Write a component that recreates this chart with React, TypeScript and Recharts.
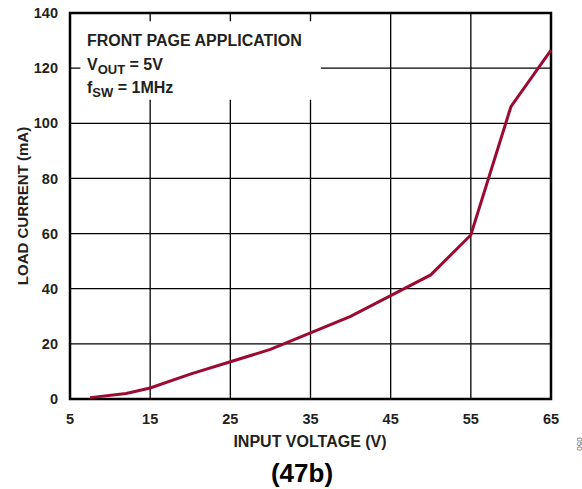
import React from 'react';
import {
  LineChart,
  Line,
  XAxis,
  YAxis,
  CartesianGrid,
  ReferenceArea,
} from 'recharts';

const inputVoltage = [7.5, 12, 15, 20, 25, 30, 35, 40, 45, 50, 55, 60, 65];
const loadCurrent = [0.5, 2, 4, 9, 13.5, 18, 24, 30, 37.5, 45, 59.5, 106, 126.5];
const xTicks = [5, 15, 25, 35, 45, 55, 65];
const yTicks = [0, 20, 40, 60, 80, 100, 120, 140];

const FONT = '"Liberation Sans", Arial, sans-serif';
const INK = '#231f20';

const data = inputVoltage.map((v, i) => ({ v, i: loadCurrent[i] }));

const tickStyle = { fontFamily: FONT, fontSize: 14.5, fontWeight: 700, fill: INK };

export default function App() {
  return (
    <div
      style={{
        position: 'absolute',
        left: 0,
        top: 0,
        width: 582,
        height: 489,
        background: '#fff',
        fontFamily: FONT,
        color: INK,
      }}
    >
      <LineChart
        width={582}
        height={489}
        data={data}
        margin={{ top: 13, right: 31, left: 0, bottom: 60 }}
      >
        <CartesianGrid stroke="#000" strokeWidth={1.3} />
        <XAxis
          type="number"
          dataKey="v"
          domain={[5, 65]}
          ticks={xTicks}
          axisLine={false}
          tickLine={false}
          tickMargin={9}
          height={30}
          tick={tickStyle}
        />
        <YAxis
          type="number"
          domain={[0, 140]}
          ticks={yTicks}
          axisLine={false}
          tickLine={false}
          tickMargin={6}
          width={70}
          tick={tickStyle}
        />
        <ReferenceArea
          x1={6.3}
          x2={36.3}
          y1={108.5}
          y2={137}
          fill="#fff"
          fillOpacity={1}
          stroke="none"
        />
        <ReferenceArea
          x1={5}
          x2={65}
          y1={0}
          y2={140}
          fill="none"
          stroke="#000"
          strokeWidth={2.5}
        />
        <Line
          type="linear"
          dataKey="i"
          stroke="#9b0a31"
          strokeWidth={3}
          dot={false}
          isAnimationActive={false}
        />
      </LineChart>

      {/* annotation */}
      <div style={{ position: 'absolute', left: 87, top: 29, fontSize: 16, fontWeight: 700, lineHeight: '23.5px' }}>
        <div>FRONT PAGE APPLICATION</div>
        <div>
          V<sub style={{ fontSize: 13, verticalAlign: '-4px', lineHeight: 0 }}>OUT</sub> = 5V
        </div>
        <div>
          f<sub style={{ fontSize: 13, verticalAlign: '-4px', lineHeight: 0 }}>SW</sub> = 1MHz
        </div>
      </div>

      {/* axis titles */}
      <div
        style={{
          position: 'absolute',
          left: 22,
          top: 206,
          transform: 'translate(-50%, -50%) rotate(-90deg)',
          whiteSpace: 'nowrap',
          fontSize: 15,
          fontWeight: 700,
        }}
      >
        LOAD CURRENT (mA)
      </div>
      <div
        style={{
          position: 'absolute',
          left: 310,
          top: 442,
          transform: 'translate(-50%, -50%)',
          whiteSpace: 'nowrap',
          fontSize: 16,
          fontWeight: 700,
        }}
      >
        INPUT VOLTAGE (V)
      </div>
      <div
        style={{
          position: 'absolute',
          left: 302,
          top: 473,
          transform: 'translate(-50%, -50%)',
          whiteSpace: 'nowrap',
          fontSize: 26,
          fontWeight: 700,
          color: '#000',
        }}
      >
        (47b)
      </div>
      <div
        style={{
          position: 'absolute',
          left: 579,
          top: 444,
          transform: 'translate(-50%, -50%) rotate(90deg)',
          whiteSpace: 'nowrap',
          fontSize: 8,
          color: '#555',
        }}
      >
        050
      </div>
    </div>
  );
}
